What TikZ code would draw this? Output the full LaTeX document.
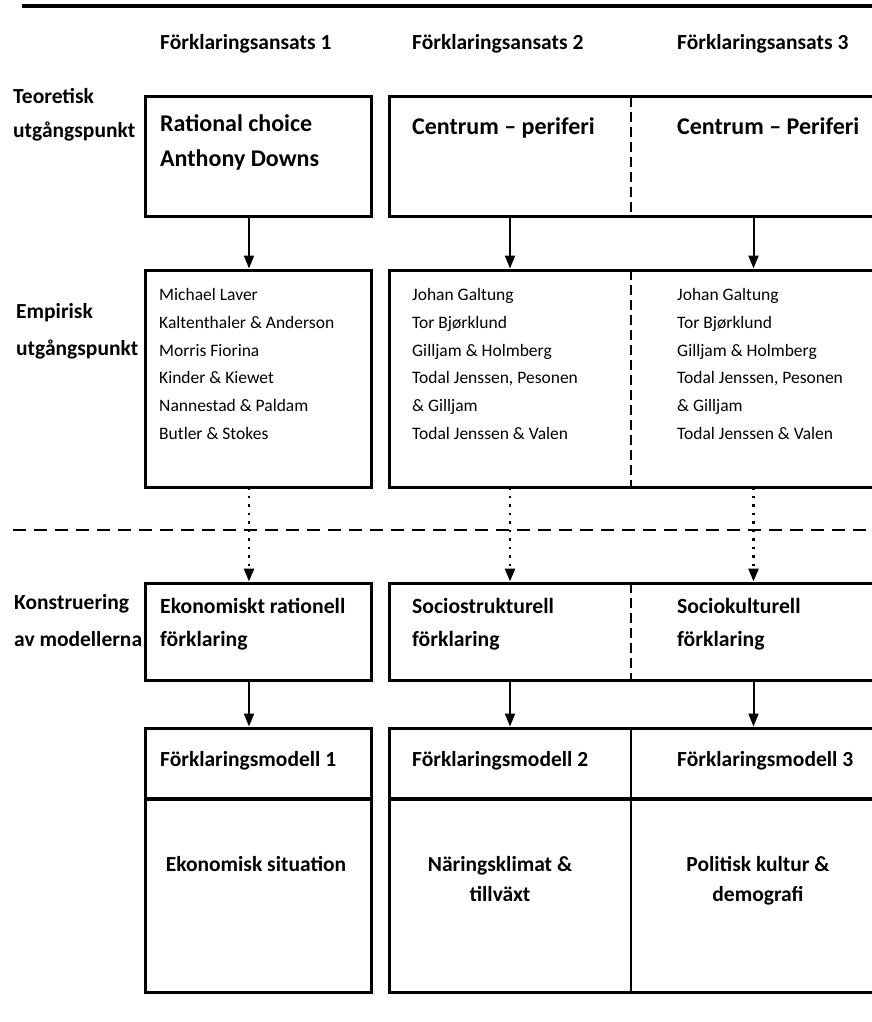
\documentclass[tikz,border=0pt]{standalone}
\usepackage{fontspec}
\setmainfont{Carlito}
\usetikzlibrary{arrows.meta}

\begin{document}
\begin{tikzpicture}[x=1pt, y=-1pt,
    box/.style={draw, line width=3pt, inner sep=0pt, outer sep=0pt, anchor=north west},
    cell/.style={inner sep=0pt, outer sep=0pt, anchor=north west},
    txt/.style={inner sep=0pt, anchor=west, align=left},
    arr/.style={line width=2pt, -{Triangle[length=13pt,width=10pt]}, shorten >=1.5pt},
    dotarr/.style={line width=2.5pt, dash pattern=on 2.5pt off 6pt, -{Triangle[length=13pt,width=10pt]}, shorten >=1.5pt},
    divider/.style={line width=1.8pt, dash pattern=on 10pt off 5pt}]
    \clip (0,0) rectangle (872,1022);
    % Top rule and section line
    \draw [line width=4.5pt] (22,6) -- (872,6);
    \draw [line width=2.5pt, dash pattern=on 13pt off 8pt] (13,530) -- (872,530);

    % Column headings
    \node [txt, font=\bfseries\fontsize{21.5}{24}\selectfont] (headA) at (160,44) {Förklaringsansats 1};
    \node [txt, font=\bfseries\fontsize{21.5}{24}\selectfont] (headB) at (412,44) {Förklaringsansats 2};
    \node [txt, font=\bfseries\fontsize{21.5}{24}\selectfont] (headC) at (677,44) {Förklaringsansats 3};

    % Row labels
    \node [txt, font=\bfseries\fontsize{21.5}{34}\selectfont] (labTeo) at (13,115) {Teoretisk\\utgångspunkt};
    \node [txt, font=\bfseries\fontsize{21.5}{37}\selectfont] (labEmp) at (16,331) {Empirisk\\utgångspunkt};
    \node [txt, font=\bfseries\fontsize{21.5}{37}\selectfont] (labKon) at (14,621) {Konstruering\\av modellerna};

    % Place boxes
    \node [box, minimum width=226pt, minimum height=119pt] (teoA) at (145,97) {};
    \node [box, minimum width=487pt, minimum height=119pt] (teoBC) at (389,97) {};
    \node [cell, minimum width=242pt, minimum height=119pt] (teoB) at (389,97) {};
    \node [cell, minimum width=245pt, minimum height=119pt] (teoC) at (631,97) {};

    \node [box, minimum width=226pt, minimum height=217pt] (empA) at (145,270) {};
    \node [box, minimum width=487pt, minimum height=217pt] (empBC) at (389,270) {};
    \node [cell, minimum width=242pt, minimum height=217pt] (empB) at (389,270) {};
    \node [cell, minimum width=245pt, minimum height=217pt] (empC) at (631,270) {};

    \node [box, minimum width=226pt, minimum height=97pt] (konA) at (145,583) {};
    \node [box, minimum width=487pt, minimum height=97pt] (konBC) at (389,583) {};
    \node [cell, minimum width=242pt, minimum height=97pt] (konB) at (389,583) {};
    \node [cell, minimum width=245pt, minimum height=97pt] (konC) at (631,583) {};

    \node [box, minimum width=226pt, minimum height=264pt] (modA) at (145,728) {};
    \node [box, minimum width=487pt, minimum height=264pt] (modBC) at (389,728) {};
    \node [cell, minimum width=242pt, minimum height=264pt] (modB) at (389,728) {};
    \node [cell, minimum width=245pt, minimum height=264pt] (modC) at (631,728) {};

    % Dividers
    \draw [divider] (teoB.north east) -- (teoB.south east);
    \draw [divider] (empB.north east) -- (empB.south east);
    \draw [divider] (konB.north east) -- (konB.south east);
    \draw [line width=2.2pt] (modB.north east) -- (modB.south east);
    \draw [line width=3.5pt] (modA.west |- 0,799) -- (modA.east |- 0,799);
    \draw [line width=3.5pt] (modBC.west |- 0,799) -- (modBC.east |- 0,799);

    % Box texts
    \node [txt, font=\bfseries\fontsize{24}{35}\selectfont] (tRat) at (160,142) {Rational choice\\Anthony Downs};
    \node [txt, font=\bfseries\fontsize{24}{35}\selectfont] (tCenB) at (412,128) {\strut Centrum – periferi};
    \node [txt, font=\bfseries\fontsize{24}{35}\selectfont] (tCenC) at (677,128) {\strut Centrum – Periferi};

    \node [txt, font=\fontsize{17.5}{27.7}\selectfont] (tEmpA) at (159,364) {Michael Laver\\Kaltenthaler \& Anderson\\Morris Fiorina\\Kinder \& Kiewet\\Nannestad \& Paldam\\Butler \& Stokes};
    \node [txt, font=\fontsize{17.5}{27.7}\selectfont] (tEmpB) at (412,364) {Johan Galtung\\Tor Bjørklund\\Gilljam \& Holmberg\\Todal Jenssen, Pesonen\\\& Gilljam\\Todal Jenssen \& Valen};
    \node [txt, font=\fontsize{17.5}{27.7}\selectfont] (tEmpC) at (677,364) {Johan Galtung\\Tor Bjørklund\\Gilljam \& Holmberg\\Todal Jenssen, Pesonen\\\& Gilljam\\Todal Jenssen \& Valen};

    \node [txt, font=\bfseries\fontsize{21.7}{33}\selectfont] (tKonA) at (160,624) {Ekonomiskt rationell\\förklaring};
    \node [txt, font=\bfseries\fontsize{21.7}{33}\selectfont] (tKonB) at (412,624) {Sociostrukturell\\förklaring};
    \node [txt, font=\bfseries\fontsize{21.7}{33}\selectfont] (tKonC) at (677,624) {Sociokulturell\\förklaring};

    \node [txt, font=\bfseries\fontsize{21.5}{24}\selectfont] (tModA) at (160,761) {Förklaringsmodell 1};
    \node [txt, font=\bfseries\fontsize{21.5}{24}\selectfont] (tModB) at (412,761) {Förklaringsmodell 2};
    \node [txt, font=\bfseries\fontsize{21.5}{24}\selectfont] (tModC) at (677,761) {Förklaringsmodell 3};

    \node [inner sep=0pt, align=center, font=\bfseries\fontsize{21.5}{30}\selectfont] (tSitA) at (256,865) {\strut Ekonomisk situation};
    \node [inner sep=0pt, align=center, font=\bfseries\fontsize{21.5}{30}\selectfont] (tSitB) at (500,880) {\strut Näringsklimat \&\\\strut tillväxt};
    \node [inner sep=0pt, align=center, font=\bfseries\fontsize{21.5}{30}\selectfont] (tSitC) at (758,880) {\strut Politisk kultur \&\\\strut demografi};

    % Connectors
    \path [draw, arr] ([xshift=-9pt]teoA.south) -- ([xshift=-9pt]empA.north);
    \path [draw, arr] (teoB.south) -- (empB.north);
    \path [draw, arr] (teoC.south) -- (empC.north);
    \path [draw, dotarr] ([xshift=-9pt]empA.south) -- ([xshift=-9pt]konA.north);
    \path [draw, dotarr] (empB.south) -- (konB.north);
    \path [draw, dotarr] (empC.south) -- (konC.north);
    \path [draw, arr] ([xshift=-9pt]konA.south) -- ([xshift=-9pt]modA.north);
    \path [draw, arr] (konB.south) -- (modB.north);
    \path [draw, arr] (konC.south) -- (modC.north);
\end{tikzpicture}
\end{document}
